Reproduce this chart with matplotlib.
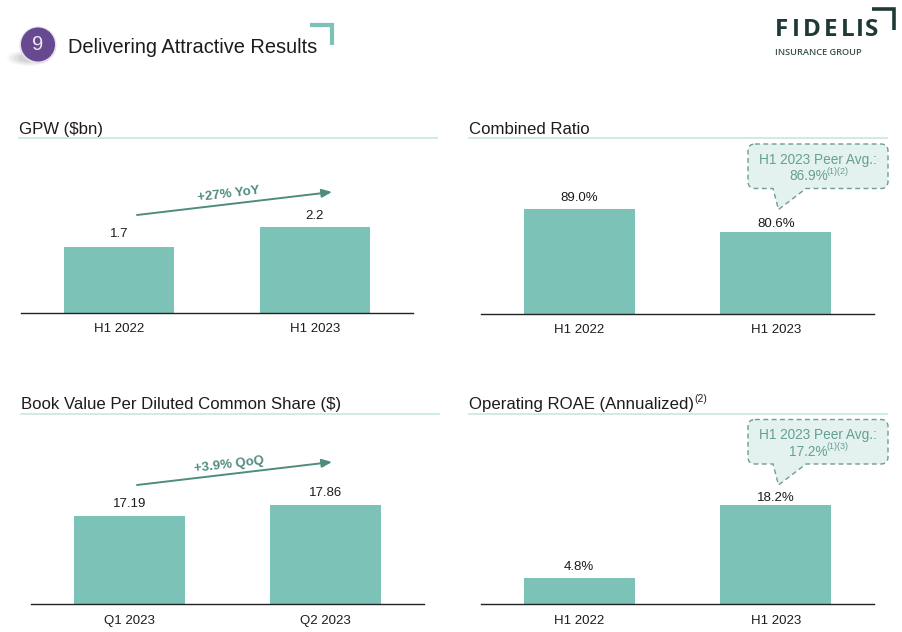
import matplotlib
matplotlib.use("Agg")
import matplotlib.pyplot as plt
from matplotlib.patches import Circle, Ellipse, PathPatch
from matplotlib.path import Path

plt.rcParams['font.family'] = ['Liberation Sans', 'DejaVu Sans']

W, H = 903, 632
TEAL = '#7CC2B7'
RULE = '#C8E6E0'
ARROW = '#4F8C80'
NOTE = '#659F94'
DASH = '#6F9C93'
DARK = '#1F3A36'
INK = '#1c1c1c'

gpw_cats = ['H1 2022', 'H1 2023']
gpw_vals = [1.7, 2.2]
gpw_labels = ['1.7', '2.2']

cr_cats = ['H1 2022', 'H1 2023']
cr_vals = [89.0, 80.6]
cr_labels = ['89.0%', '80.6%']

bv_cats = ['Q1 2023', 'Q2 2023']
bv_vals = [17.19, 17.86]
bv_labels = ['17.19', '17.86']

roae_cats = ['H1 2022', 'H1 2023']
roae_vals = [4.8, 18.2]
roae_labels = ['4.8%', '18.2%']

fig = plt.figure(figsize=(W / 100, H / 100), dpi=100, facecolor='white')


def panel(x0, x1, base, top, cats, vals, labels, ymin, px_per_unit, pads=(4, 4), tick_pad=7):
    # axes placed in pixels, y scale set so the bars get the right height
    ax = fig.add_axes([x0 / W, 1 - base / H, (x1 - x0) / W, (base - top) / H])
    bars = ax.bar(range(len(vals)), vals, width=0.566, color=TEAL)
    for bar, lab, pad in zip(bars, labels, pads):
        ax.annotate(lab, (bar.get_x() + bar.get_width() / 2, bar.get_height()), xytext=(0, pad),
                    textcoords='offset points', ha='center', va='bottom', fontsize=9.5, color=INK)
    ax.set_xlim(-0.5, 1.5)
    ax.set_ylim(ymin, ymin + (base - top) / px_per_unit)
    ax.set_xticks(range(len(cats)))
    ax.set_xticklabels(cats, fontsize=9.5, color=INK)
    ax.set_yticks([])
    ax.tick_params(axis='x', length=0, pad=tick_pad)
    for s in ['top', 'left', 'right']:
        ax.spines[s].set_visible(False)
    ax.spines['bottom'].set_color('#222222')
    ax.spines['bottom'].set_linewidth(1.0)
    ax.patch.set_alpha(0)
    return ax


panel(21, 413, 313, 170, gpw_cats, gpw_vals, gpw_labels, 0, 39.0, pads=(5, 3.5))
panel(481, 874, 314, 170, cr_cats, cr_vals, cr_labels, 50.7, 2.74, pads=(3.5, 1.5))
panel(31, 424, 604, 450, bv_cats, bv_vals, bv_labels, 11.8, 16.4, tick_pad=8)
panel(481, 874, 604, 450, roae_cats, roae_vals, roae_labels, 0, 5.42, pads=(3.5, 1), tick_pad=8)

# overlay in pixel coords for header, rules, callouts
ov = fig.add_axes([0, 0, 1, 1], zorder=5)
ov.set_xlim(0, W)
ov.set_ylim(H, 0)
ov.axis('off')

# header
for w, a in [(44, 0.05), (38, 0.08), (30, 0.10), (22, 0.12)]:
    ov.add_patch(Ellipse((29, 58), w, w * 0.36, color='#777777', alpha=a, lw=0))
ov.add_patch(Circle((38, 45), 18.5, facecolor='#E4DEEC', edgecolor='none'))
ov.add_patch(Circle((38, 44.5), 17, facecolor='#67498F', edgecolor='none'))
ov.text(38, 45, '9', color='#EDE8F3', fontsize=14.5, ha='center', va='center')
ov.text(68, 47.5, 'Delivering Attractive Results', fontsize=14.45, color=INK, va='center')
ov.plot([310, 332, 332], [25, 25, 45], color=TEAL, lw=3, solid_joinstyle='miter', solid_capstyle='butt')

# logo, letters placed one by one for the wide tracking
logo_letters = list('FIDELIS')
logo_x = [782, 796, 811.5, 830.5, 847.5, 859.5, 871.5]
for ch, x in zip(logo_letters, logo_x):
    ov.text(x, 30, ch, fontsize=17.5, family='Open Sans', fontweight='bold', color=DARK,
            va='center', ha='center')
ov.text(775, 52.5, 'INSURANCE GROUP', fontsize=6.7, family='Open Sans', fontweight='semibold',
        color='#3A4F4C', va='center', ha='left')
ov.plot([872, 894, 894], [9, 9, 30], color=DARK, lw=2.6, solid_joinstyle='miter', solid_capstyle='butt')

# panel titles and rules
titles = ['GPW ($bn)', 'Combined Ratio', 'Book Value Per Diluted Common Share ($)', 'Operating ROAE (Annualized)']
title_x = [19, 469, 21, 469]
title_y = [129.5, 129.5, 405, 404.5]
rule_y = [138, 138, 414, 414]
for t, x, y, ry in zip(titles, title_x, title_y, rule_y):
    ov.text(x, y, t.replace('$', r'\$'), fontsize=12.1, color=INK, va='center', ha='left')
    ov.plot([x, x + 418], [ry, ry], color=RULE, lw=1.2)
ov.text(694, 399.5, '(2)', fontsize=7.5, color=INK, va='center', ha='left')


def growth(x0, y0, x1, y1, text, tx, ty, rot):
    ov.annotate('', xy=(x1, y1), xytext=(x0, y0),
                arrowprops=dict(arrowstyle='-|>,head_length=0.6,head_width=0.25', color=ARROW, lw=1.4,
                                shrinkA=0, shrinkB=0))
    ov.text(tx, ty, text, fontsize=9.5, fontweight='bold', color=ARROW, rotation=rot,
            ha='center', va='center', rotation_mode='anchor')


growth(137, 215, 332, 192, '+27% YoY', 229, 194.5, 6.8)
growth(137, 485, 332, 462, '+3.9% QoQ', 229, 464.5, 6.8)


def callout(top, line2, sup):
    l, r, b = 748, 888, top + 44.5
    c = 7
    tip = (778.5, b + 21)
    verts = [(l + c, top), (r - c, top), (r, top), (r, top + c), (r, b - c), (r, b), (r - c, b),
             (806, b), tip, (773, b), (l + c, b), (l, b), (l, b - c), (l, top + c), (l, top), (l + c, top)]
    codes = [Path.MOVETO, Path.LINETO, Path.CURVE3, Path.CURVE3, Path.LINETO, Path.CURVE3, Path.CURVE3,
             Path.LINETO, Path.LINETO, Path.LINETO, Path.LINETO, Path.CURVE3, Path.CURVE3, Path.LINETO,
             Path.CURVE3, Path.CURVE3]
    ov.add_patch(PathPatch(Path(verts, codes), facecolor='#E4F2EF', edgecolor=DASH, lw=1.0, linestyle=(0, (3.5, 2.5))))
    ov.text(818, top + 16, 'H1 2023 Peer Avg.:', fontsize=9.8, color=NOTE, ha='center', va='center')
    ov.text(789, top + 32, line2, fontsize=9.8, color=NOTE, ha='left', va='center')
    ov.text(827, top + 27, sup, fontsize=6.5, color=NOTE, ha='left', va='center')


callout(144, '86.9%', '(1)(2)')
callout(419.5, '17.2%', '(1)(3)')

fig.savefig('out.png', dpi=100)
